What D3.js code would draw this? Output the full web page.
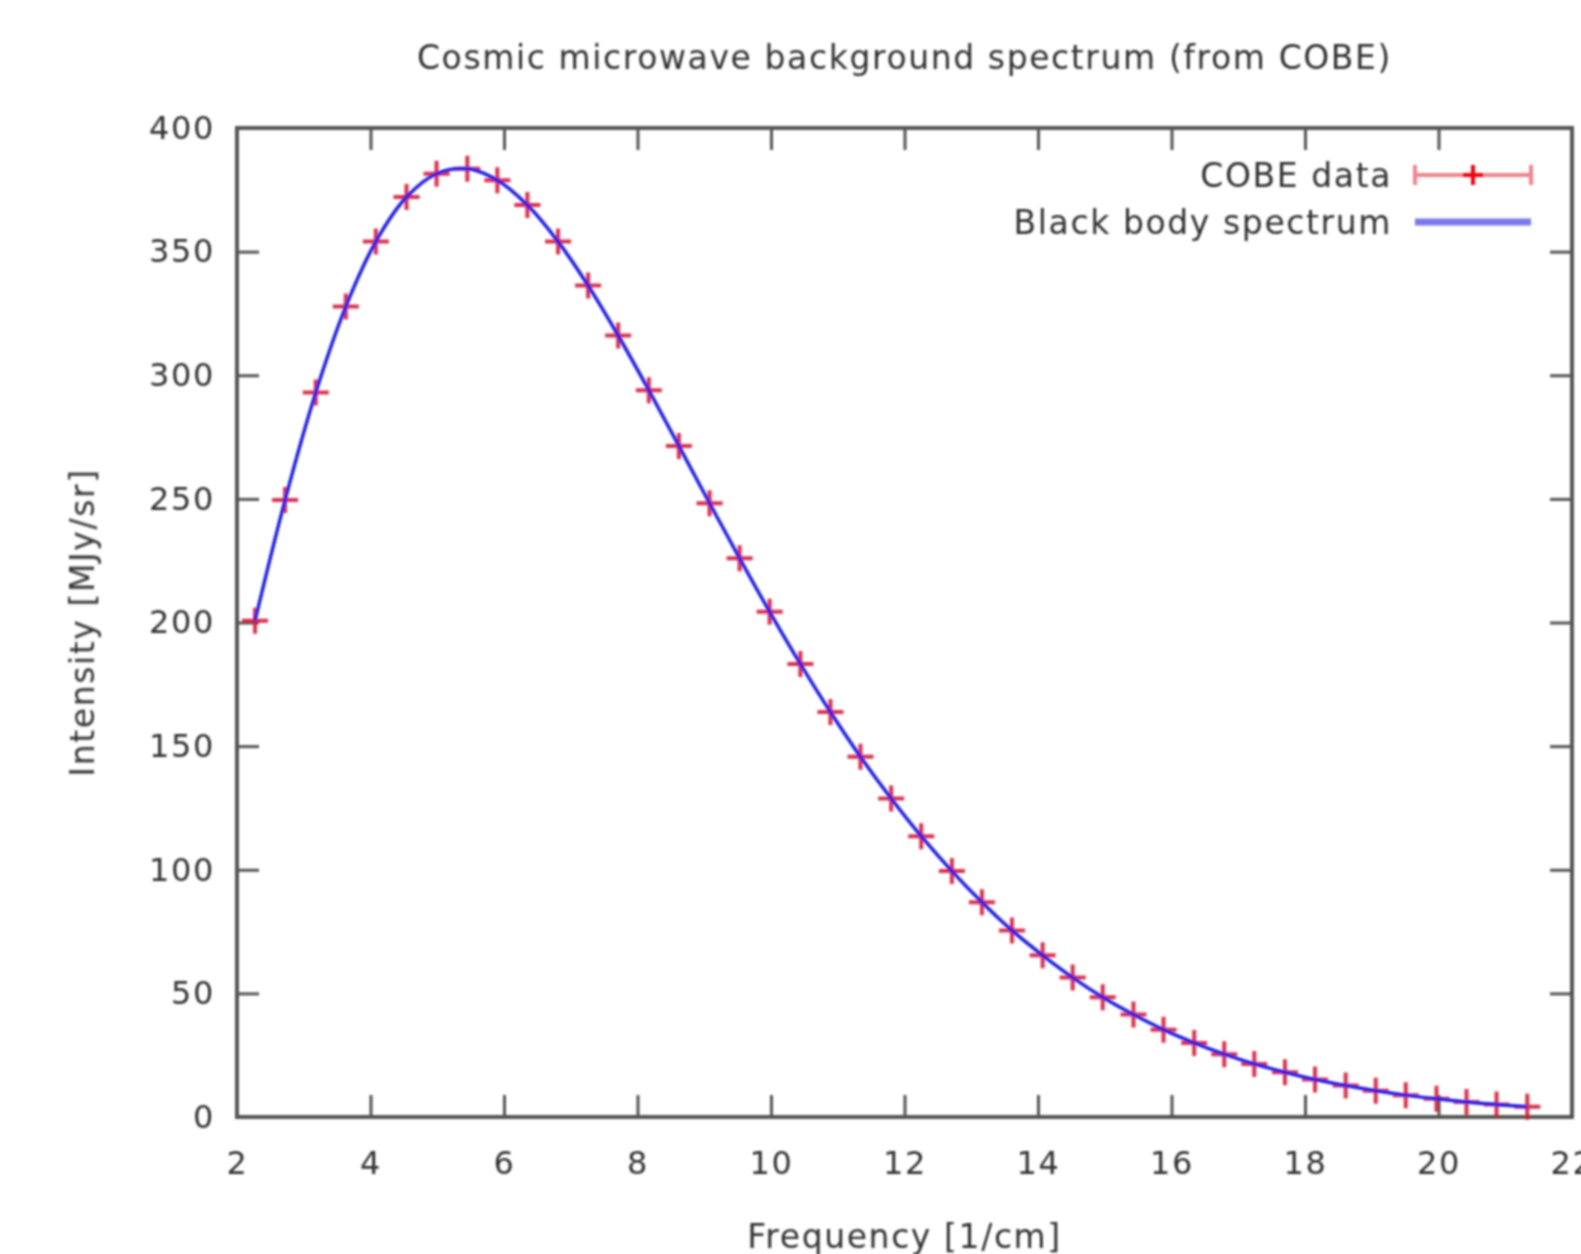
<!DOCTYPE html>
<html>
<head>
<meta charset="utf-8">
<script src="https://cdn.jsdelivr.net/npm/d3@7"></script>
<style>
  body { margin: 0; background: #fff; }
  svg { display: block; }
  text { font-family: "DejaVu Sans", sans-serif; fill: #333; letter-spacing: 1.6px; }
</style>
</head>
<body>
<svg id="chart"></svg>
<script>
// COBE FIRAS monopole spectrum
let frequency = [2.27, 2.72, 3.18, 3.63, 4.08, 4.54, 4.99, 5.45, 5.90, 6.35, 6.81, 7.26, 7.71, 8.17, 8.62,
    9.08, 9.53, 9.98, 10.44, 10.89, 11.34, 11.80, 12.25, 12.71, 13.16, 13.61, 14.07, 14.52, 14.97,
    15.43, 15.88, 16.34, 16.79, 17.24, 17.70, 18.15, 18.61, 19.06, 19.51, 19.97, 20.42, 20.87, 21.33];
let intensity = [200.723, 249.508, 293.024, 327.770, 354.081, 372.079, 381.493, 383.478, 378.901, 368.833,
    354.063, 336.278, 316.076, 293.924, 271.432, 248.239, 225.940, 204.327, 183.262, 163.830, 145.750,
    128.835, 113.568, 99.451, 86.848, 75.460, 65.380, 56.388, 48.430, 41.432, 35.311, 29.963, 25.396,
    21.466, 18.080, 15.166, 12.704, 10.606, 8.842, 7.353, 6.089, 5.045, 4.168];

let xTicks = [2, 4, 6, 8, 10, 12, 14, 16, 18, 20, 22];
let yTicks = [0, 50, 100, 150, 200, 250, 300, 350, 400];
let legendLabels = ["COBE data", "Black body spectrum"];

let W = 1581, H = 1254;
let margin = {top: 128, right: 9, bottom: 137, left: 237},
    width = W - margin.left - margin.right,
    height = H - margin.top - margin.bottom;

let svg = d3.select("#chart").attr("width", W).attr("height", H);

// the reference is soft, blur everything a little
svg.append("defs").append("filter").attr("id", "soft")
    .append("feGaussianBlur").attr("stdDeviation", 1.2);

let root = svg.append("g").attr("filter", "url(#soft)");

let chart = root.append("g")
    .attr("transform", "translate(" + margin.left + "," + margin.top + ")");

let xScale = d3.scaleLinear().domain([2, 22]).range([0, width]);
let yScale = d3.scaleLinear().domain([0, 400]).range([height, 0]);

let tickLen = 22;
let styleAxis = g => {
    g.select(".domain").remove();
    g.selectAll(".tick line").attr("stroke", "#555").attr("stroke-width", 3);
    g.selectAll(".tick text").style("font-size", "32px").attr("fill", "#333");
};

// bottom / top
chart.append("g")
    .attr("transform", "translate(0," + height + ")")
    .call(d3.axisBottom(xScale).tickValues(xTicks).tickSize(-tickLen).tickPadding(34).tickFormat(d3.format("d")))
    .call(styleAxis);
chart.append("g")
    .call(d3.axisTop(xScale).tickValues(xTicks).tickSize(-tickLen).tickFormat(""))
    .call(styleAxis);
// left / right
chart.append("g")
    .call(d3.axisLeft(yScale).tickValues(yTicks).tickSize(-tickLen).tickPadding(22).tickFormat(d3.format("d")))
    .call(styleAxis);
chart.append("g")
    .attr("transform", "translate(" + width + ",0)")
    .call(d3.axisRight(yScale).tickValues(yTicks).tickSize(-tickLen).tickFormat(""))
    .call(styleAxis);

// frame
chart.append("rect")
    .attr("width", width).attr("height", height)
    .attr("fill", "none").attr("stroke", "#555").attr("stroke-width", 4);

let data = frequency.map((f, i) => ({f: f, v: intensity[i]}));

// data markers (+)
let plus = (x, y, s) => "M" + (x - s) + "," + y + "H" + (x + s) + "M" + x + "," + (y - s) + "V" + (y + s);
chart.append("g").selectAll("path")
    .data(data)
    .enter()
    .append("path")
    .attr("d", d => plus(xScale(d.f), yScale(d.v), 13))
    .attr("stroke", "#d01030")
    .attr("stroke-opacity", 0.85)
    .attr("stroke-width", 4)
    .attr("fill", "none");

// black body curve
let line = d3.line()
    .x(d => xScale(d.f))
    .y(d => yScale(d.v))
    .curve(d3.curveCatmullRom);
chart.append("path")
    .datum(data)
    .attr("d", line)
    .attr("fill", "none")
    .attr("stroke", "#2020e0")
    .attr("stroke-width", 3.5);

// legend
let legend = chart.append("g");
let lx0 = 1415 - margin.left, lx1 = 1531 - margin.left;
let ly = [175 - margin.top, 222 - margin.top];
legend.selectAll("text")
    .data(legendLabels)
    .enter()
    .append("text")
    .attr("x", 1392 - margin.left)
    .attr("y", (d, i) => ly[i])
    .attr("dy", "0.35em")
    .attr("text-anchor", "end")
    .style("font-size", "33px")
    .text(d => d);

legend.append("path")
    .attr("d", "M" + lx0 + "," + ly[0] + "H" + lx1
        + "M" + lx0 + "," + (ly[0] - 10) + "V" + (ly[0] + 10)
        + "M" + lx1 + "," + (ly[0] - 10) + "V" + (ly[0] + 10))
    .attr("stroke", "#e03040").attr("stroke-opacity", 0.6).attr("stroke-width", 4);
legend.append("path")
    .attr("d", plus((lx0 + lx1) / 2, ly[0], 10))
    .attr("stroke", "#f00010").attr("stroke-width", 4);
legend.append("line")
    .attr("x1", lx0).attr("x2", lx1).attr("y1", ly[1]).attr("y2", ly[1])
    .attr("stroke", "#3030e0").attr("stroke-opacity", 0.65).attr("stroke-width", 7);

// titles
root.append("text")
    .attr("x", margin.left + width / 2)
    .attr("y", 57)
    .attr("dy", "0.35em")
    .attr("text-anchor", "middle")
    .style("font-size", "33px")
    .text("Cosmic microwave background spectrum (from COBE)");

root.append("text")
    .attr("x", margin.left + width / 2)
    .attr("y", 1236)
    .attr("dy", "0.35em")
    .attr("text-anchor", "middle")
    .style("font-size", "33px")
    .text("Frequency [1/cm]");

root.append("text")
    .attr("transform", "translate(82," + (margin.top + height / 2) + ") rotate(-90)")
    .attr("dy", "0.35em")
    .attr("text-anchor", "middle")
    .style("font-size", "33px")
    .text("Intensity [MJy/sr]");
</script>
</body>
</html>
